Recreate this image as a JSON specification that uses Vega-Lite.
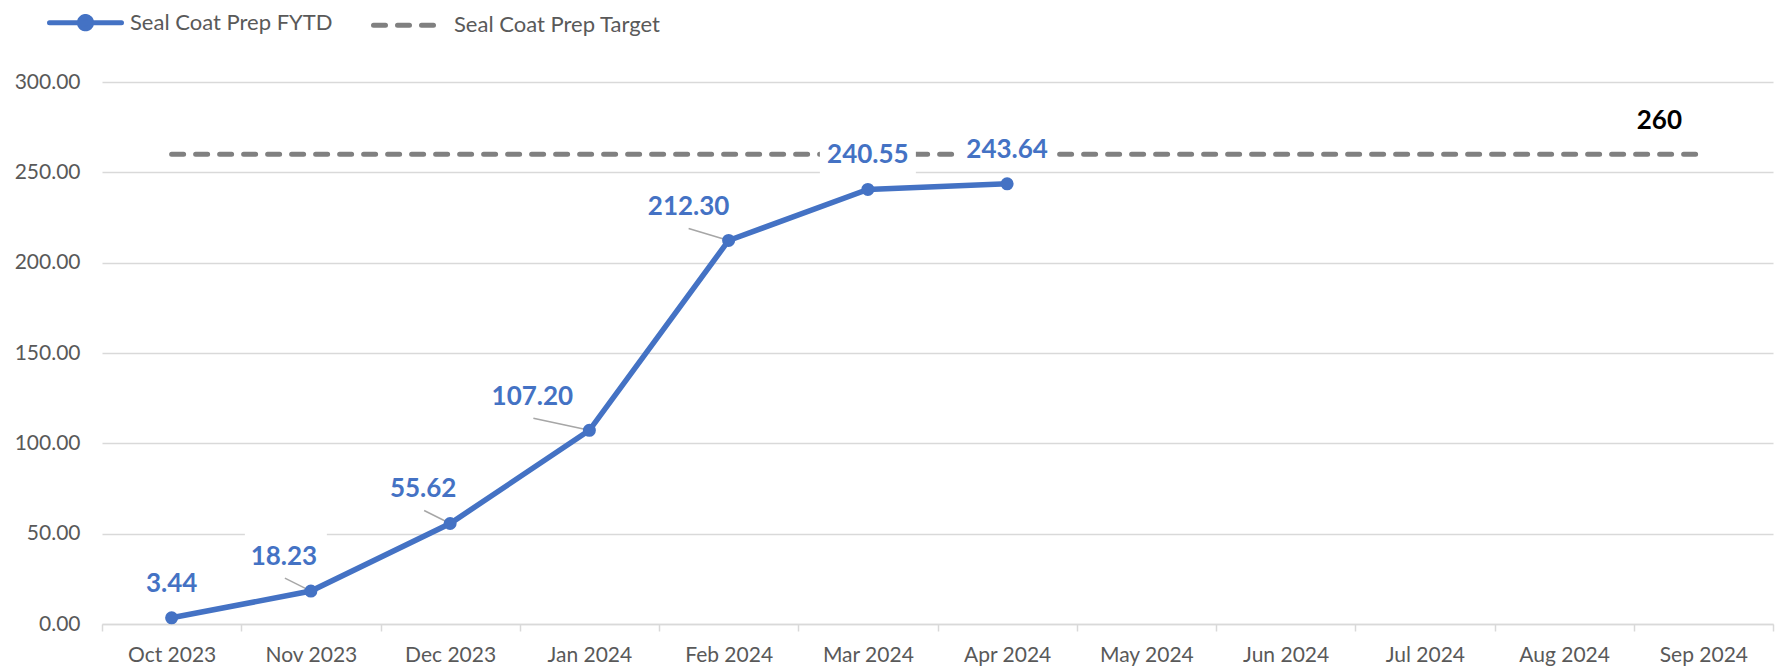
{
  "$schema": "https://vega.github.io/schema/vega-lite/v6.json",
  "width": 1671,
  "height": 542,
  "autosize": {"type": "none"},
  "padding": {"left": 102, "top": 82, "right": 15, "bottom": 44},
  "background": "white",
  "config": {"view": {"stroke": null}, "font": "Lato"},
  "data": {
    "values": [
      {"month": "Oct 2023", "series": "Seal Coat Prep FYTD", "value": 3.44},
      {"month": "Nov 2023", "series": "Seal Coat Prep FYTD", "value": 18.23},
      {"month": "Dec 2023", "series": "Seal Coat Prep FYTD", "value": 55.62},
      {"month": "Jan 2024", "series": "Seal Coat Prep FYTD", "value": 107.2},
      {"month": "Feb 2024", "series": "Seal Coat Prep FYTD", "value": 212.3},
      {"month": "Mar 2024", "series": "Seal Coat Prep FYTD", "value": 240.55},
      {"month": "Apr 2024", "series": "Seal Coat Prep FYTD", "value": 243.64},
      {"month": "Oct 2023", "series": "Seal Coat Prep Target", "value": 260},
      {"month": "Nov 2023", "series": "Seal Coat Prep Target", "value": 260},
      {"month": "Dec 2023", "series": "Seal Coat Prep Target", "value": 260},
      {"month": "Jan 2024", "series": "Seal Coat Prep Target", "value": 260},
      {"month": "Feb 2024", "series": "Seal Coat Prep Target", "value": 260},
      {"month": "Mar 2024", "series": "Seal Coat Prep Target", "value": 260},
      {"month": "Apr 2024", "series": "Seal Coat Prep Target", "value": 260},
      {"month": "May 2024", "series": "Seal Coat Prep Target", "value": 260},
      {"month": "Jun 2024", "series": "Seal Coat Prep Target", "value": 260},
      {"month": "Jul 2024", "series": "Seal Coat Prep Target", "value": 260},
      {"month": "Aug 2024", "series": "Seal Coat Prep Target", "value": 260},
      {"month": "Sep 2024", "series": "Seal Coat Prep Target", "value": 260}
    ]
  },
  "encoding": {
    "x": {
      "field": "month",
      "type": "nominal",
      "sort": null,
      "bandPosition": 0.5,
      "scale": {
        "type": "band",
        "domain": ["Oct 2023", "Nov 2023", "Dec 2023", "Jan 2024", "Feb 2024", "Mar 2024", "Apr 2024", "May 2024", "Jun 2024", "Jul 2024", "Aug 2024", "Sep 2024"],
        "paddingInner": 0,
        "paddingOuter": 0
      },
      "axis": {
        "title": null,
        "labelAngle": 0,
        "labelFont": "Lato",
        "labelFontSize": 21,
        "labelColor": "#595959",
        "domainColor": "#D9D9D9",
        "domainWidth": 1.5,
        "tickColor": "#D9D9D9",
        "tickWidth": 1.5,
        "tickSize": 7,
        "tickBand": "extent",
        "labelPadding": 13,
        "grid": false
      }
    },
    "y": {
      "field": "value",
      "type": "quantitative",
      "scale": {"domain": [0, 300], "nice": false},
      "axis": {
        "title": null,
        "values": [0, 50, 100, 150, 200, 250, 300],
        "format": ".2f",
        "labelFont": "Lato",
        "labelFontSize": 21,
        "labelColor": "#595959",
        "labelPadding": 22,
        "domain": false,
        "ticks": false,
        "gridColor": "#D9D9D9",
        "gridWidth": 1.5
      }
    }
  },
  "layer": [
    {
      "transform": [{"filter": "datum.series === 'Seal Coat Prep Target'"}],
      "mark": {"type": "line", "strokeWidth": 5, "strokeDash": [12, 12], "strokeCap": "round"},
      "encoding": {
        "color": {
          "field": "series",
          "type": "nominal",
          "scale": {"domain": ["Seal Coat Prep FYTD", "Seal Coat Prep Target"], "range": ["#4472C4", "#808080"]},
          "legend": {
            "title": null,
            "orient": "none",
            "legendX": -55,
            "legendY": -98,
            "direction": "horizontal",
            "symbolType": "stroke",
            "symbolSize": 5184,
            "symbolStrokeWidth": 5,
            "labelFont": "Lato",
            "labelFontSize": 22,
            "labelColor": "#595959",
            "labelLimit": 0,
            "labelOffset": 6,
            "columnPadding": 30,
            "encode": {
              "symbols": {
                "update": {
                  "shape": {"signal": "datum.value === 'Seal Coat Prep FYTD' ? 'M-1,0L1,0M-0.17,0A0.17,0.17 0 1 1 0.17,0A0.17,0.17 0 1 1 -0.17,0Z' : 'stroke'"},
                  "fill": {"signal": "datum.value === 'Seal Coat Prep FYTD' ? '#4472C4' : 'transparent'"},
                  "strokeDash": {"signal": "datum.value === 'Seal Coat Prep Target' ? [12, 12] : [1, 0]"},
                  "strokeCap": {"value": "round"}
                }
              }
            }
          }
        }
      }
    },
    {
      "transform": [{"filter": "datum.month === 'Nov 2023' && datum.series === 'Seal Coat Prep FYTD'"}],
      "mark": {"type": "point", "shape": "M-1,-0.61H1V0.61H-1Z", "filled": true, "color": "white", "opacity": 1, "size": 6724, "xOffset": -25, "yOffset": -35},
      "encoding": {}
    },
    {
      "transform": [{"filter": "(datum.month === 'Mar 2024' || datum.month === 'Apr 2024') && datum.series === 'Seal Coat Prep FYTD'"}],
      "mark": {"type": "point", "shape": "M-1,-0.4167H1V0.4167H-1Z", "filled": true, "color": "white", "opacity": 1, "size": 9216, "yOffset": -35},
      "encoding": {}
    },
    {
      "transform": [{"filter": "datum.series === 'Seal Coat Prep FYTD' && (datum.month === 'Nov 2023' || datum.month === 'Dec 2023')"}],
      "mark": {"type": "rule", "color": "#A6A6A6", "strokeWidth": 1.5, "xOffset": -26, "yOffset": -13, "x2Offset": 0, "y2Offset": 0},
      "encoding": {"x2": {"field": "month", "bandPosition": 0.5}, "y2": {"field": "value"}}
    },
    {
      "transform": [{"filter": "datum.series === 'Seal Coat Prep FYTD' && datum.month === 'Feb 2024'"}],
      "mark": {"type": "rule", "color": "#A6A6A6", "strokeWidth": 1.5, "xOffset": -40, "yOffset": -12, "x2Offset": 0, "y2Offset": 0},
      "encoding": {"x2": {"field": "month", "bandPosition": 0.5}, "y2": {"field": "value"}}
    },
    {
      "transform": [{"filter": "datum.series === 'Seal Coat Prep FYTD' && datum.month === 'Jan 2024'"}],
      "mark": {"type": "rule", "color": "#A6A6A6", "strokeWidth": 1.5, "xOffset": -56, "yOffset": -12, "x2Offset": 0, "y2Offset": 0},
      "encoding": {"x2": {"field": "month", "bandPosition": 0.5}, "y2": {"field": "value"}}
    },
    {
      "transform": [{"filter": "datum.series === 'Seal Coat Prep FYTD'"}],
      "mark": {"type": "line", "strokeWidth": 5.5, "point": {"filled": true, "size": 170}},
      "encoding": {"color": {"field": "series", "type": "nominal"}}
    },
    {
      "transform": [{"filter": "datum.series === 'Seal Coat Prep FYTD' && (datum.month === 'Oct 2023' || datum.month === 'Mar 2024' || datum.month === 'Apr 2024')"}],
      "mark": {"type": "text", "font": "Lato", "fontSize": 26, "fontWeight": "bold", "color": "#4472C4", "baseline": "middle", "align": "center", "yOffset": -34},
      "encoding": {"text": {"field": "value", "type": "quantitative", "format": ".2f"}}
    },
    {
      "transform": [{"filter": "datum.series === 'Seal Coat Prep FYTD' && (datum.month === 'Nov 2023' || datum.month === 'Dec 2023')"}],
      "mark": {"type": "text", "font": "Lato", "fontSize": 26, "fontWeight": "bold", "color": "#4472C4", "baseline": "middle", "align": "center", "xOffset": -27, "yOffset": -34.5},
      "encoding": {"text": {"field": "value", "type": "quantitative", "format": ".2f"}}
    },
    {
      "transform": [{"filter": "datum.series === 'Seal Coat Prep FYTD' && datum.month === 'Feb 2024'"}],
      "mark": {"type": "text", "font": "Lato", "fontSize": 26, "fontWeight": "bold", "color": "#4472C4", "baseline": "middle", "align": "center", "xOffset": -40, "yOffset": -33},
      "encoding": {"text": {"field": "value", "type": "quantitative", "format": ".2f"}}
    },
    {
      "transform": [{"filter": "datum.series === 'Seal Coat Prep FYTD' && datum.month === 'Jan 2024'"}],
      "mark": {"type": "text", "font": "Lato", "fontSize": 26, "fontWeight": "bold", "color": "#4472C4", "baseline": "middle", "align": "center", "xOffset": -57, "yOffset": -33},
      "encoding": {"text": {"field": "value", "type": "quantitative", "format": ".2f"}}
    },
    {
      "transform": [{"filter": "datum.series === 'Seal Coat Prep Target' && datum.month === 'Sep 2024'"}],
      "mark": {"type": "text", "font": "Lato", "fontSize": 26, "fontWeight": "bold", "color": "black", "baseline": "middle", "align": "center", "xOffset": -44, "yOffset": -33},
      "encoding": {"text": {"field": "value", "type": "quantitative", "format": "d"}}
    }
  ]
}
